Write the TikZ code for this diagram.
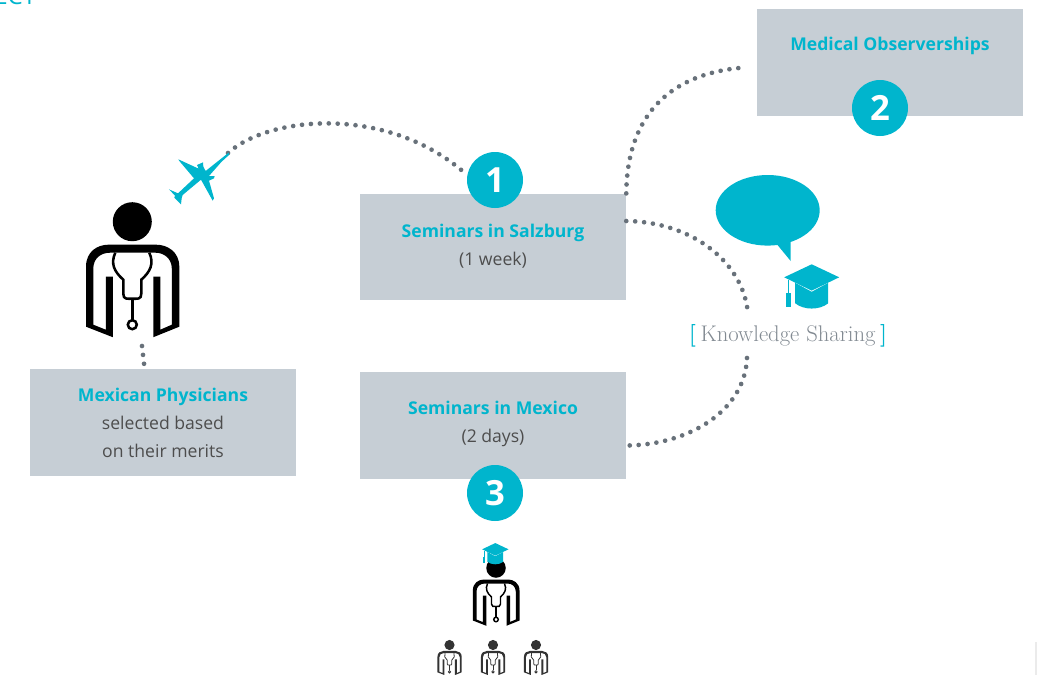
\documentclass[tikz,border=0pt]{standalone}
\usepackage{fontspec}
\setsansfont{Open Sans}
\usetikzlibrary{positioning}
\definecolor{teal}{RGB}{0,181,205}
\definecolor{boxgray}{RGB}{198,206,213}
\definecolor{dotgray}{RGB}{104,113,122}
\definecolor{bodytext}{RGB}{77,77,77}
\definecolor{sharegray}{RGB}{130,138,146}
\tikzset{
	box/.style={fill=boxgray,minimum width=199.5pt,minimum height=80pt,inner sep=0pt,align=center,
		text=bodytext,font=\sffamily\fontsize{13.2}{21}\selectfont},
	numcircle/.style={circle,fill=teal,minimum size=42pt,inner sep=0pt,text=white,
		font=\sffamily\bfseries\fontsize{26}{26}\selectfont},
	dotline/.style={dotgray,line width=3.5pt,line cap=round,dash pattern=on 0pt off 6.7pt},
	pics/doctor/.style={code={
		\fill (0,0) circle [radius=19.5];
		\fill [even odd rule] (-46.3,105) -- (-46.3,45) .. controls (-46.3,30) and (-35,23) .. (-24,23)
			-- (24,23) .. controls (35,23) and (47,30) .. (47,45) -- (47,105) -- (21,115.5) -- (21,55) -- (28,55)
			-- (28,108) -- (39.5,103) -- (39.5,47) .. controls (39.5,37) and (32,31) .. (23,31)
			-- (-22,31) .. controls (-32,31) and (-39,37) .. (-39,47) -- (-39,103) -- (-26.5,108) -- (-26.5,55)
			-- (-19.5,55) -- (-19.5,115.5) -- cycle;
		\draw (-17,31) .. controls (-22,42) and (-18,50) .. (-9,58) -- (-9,72) .. controls (-9,78) and (-5,77) .. (0,77)
			.. controls (5,77) and (9,78) .. (9,72) -- (9,58) .. controls (18,50) and (22,42) .. (17,31);
		\draw (0,77) -- (0,98);
		\draw (0,103) circle [radius=4.5];
	}},
	pics/gradcap/.style={code={
		\fill [teal] (-27.5,0) -- (0,-13) -- (27.5,0) -- (0,13.3) -- cycle;
		\fill [teal] (-16.5,5.5) -- (0,13.3+1.2) -- (16.5,5.5) -- (16.5,26) .. controls (8,33) and (-8,33) .. (-16.5,26) -- cycle;
		\fill [teal] (-23.5,2.5) rectangle (-22.5,16);
		\fill [teal] (-25.5,16) rectangle (-21,29.5);
	}},
	pics/plane/.style={code={
		\fill [teal] (566,68) -- (522,103) -- (497,123) -- (490,110) -- (489,97) -- (471,105) -- (476,116) -- (415,88)
			-- (418,93) -- (462,145) -- (414,190) -- (387,178) -- (405,197) -- (403,203) -- (423,223) -- (425,205)
			-- (428,195) -- (483,149) -- (518,212) -- (522,205) -- (507,152) -- (522,145) -- (524,138) -- (507,138)
			-- (544,96) -- (568,74) -- cycle;
	}},
}
\begin{document}
\begin{tikzpicture}[x=0.75pt,y=-0.75pt]
	\useasboundingbox (0,0) rectangle (1040,675);

	% cut off heading...................
	\node (heading) [text=teal,font=\sffamily\fontsize{18}{18}\selectfont,anchor=base west,inner sep=0pt] at (-6,4) {ECT};

	% edge mark.........................
	\fill [black!8] (1035,642) rectangle (1036.5,675);

	% boxes.............................
	\node (observ) [box,text=teal] at (890,62.5) {\bfseries Medical Observerships\\[6.75pt]};
	\node (salzburg) [box] at (493,247) {\textcolor{teal}{\bfseries Seminars in Salzburg}\\(1 week)\\[-18pt]};
	\node (mexico) [box] at (493,425.5) {\textcolor{teal}{\bfseries Seminars in Mexico}\\(2 days)\\[-15pt]};
	\node (physicians) [box] at (163,422.5) {\textcolor{teal}{\bfseries Mexican Physicians}\\selected based\\on their merits};

	% knowledge sharing.................
	\node (sharing) [inner sep=0pt,text=sharegray,font=\fontsize{17}{19}\selectfont\addfontfeatures{LetterSpace=3}] at (788,336)
		{\textcolor{teal}{\bfseries [}\hspace{3.5pt}Knowledge Sharing\hspace{3.5pt}\textcolor{teal}{\bfseries ]}};
	\fill [teal] (767.7,210.3) ellipse [x radius=52,y radius=35.3];
	\fill [teal] (776.7,244) -- (790.7,261) -- (790.7,240) -- cycle;
	\pic [fill=teal] at (811.7,277.3) {gradcap};

	% free ends.........................
	\coordinate (planenose) at (228,153);
	\coordinate (doctorfoot) at (142,346);
	\coordinate (sharingup) at (748,315);
	\coordinate (sharingdown) at (747,358);

	% numbers...........................
	\node (num1) [numcircle] at (495,180) {1};
	\node (num2) [numcircle] at (880,108) {2};
	\node (num3) [numcircle] at (495,493) {3};

	% dotted routes.....................
	\draw [dotline] (planenose) .. controls (270,115) and (390,105) .. (num1.170);
	\draw [dotline] (salzburg.north east) .. controls (627,120) and (665,75) .. ([xshift=-12pt,yshift=-4pt]observ.west);
	\draw [dotline] ([yshift=19.5pt]salzburg.east) .. controls (695,222) and (745,265) .. (sharingup);
	\draw [dotline] (sharingdown) .. controls (745,410) and (690,445) .. ([yshift=-15pt]mexico.east);
	\draw [dotline] (doctorfoot) -- ([xshift=-14pt,yshift=2pt]physicians.north);

	% plane and doctors.................
	\pic [scale=1/3] at (40,130) {plane};
	\pic [line width=1.9pt] at (132.3,221.7) {doctor};
	\pic [scale=0.5,line width=1.1pt] at (496,568) {doctor};
	\pic [scale=0.48] at (495.3,549.3) {gradcap};
	\foreach \px/\pname in {449.5/left,493/mid,536/right}
		\pic (\pname) [scale=0.26,line width=0.6pt,black!80] at (\px,645) {doctor};
\end{tikzpicture}
\end{document}
